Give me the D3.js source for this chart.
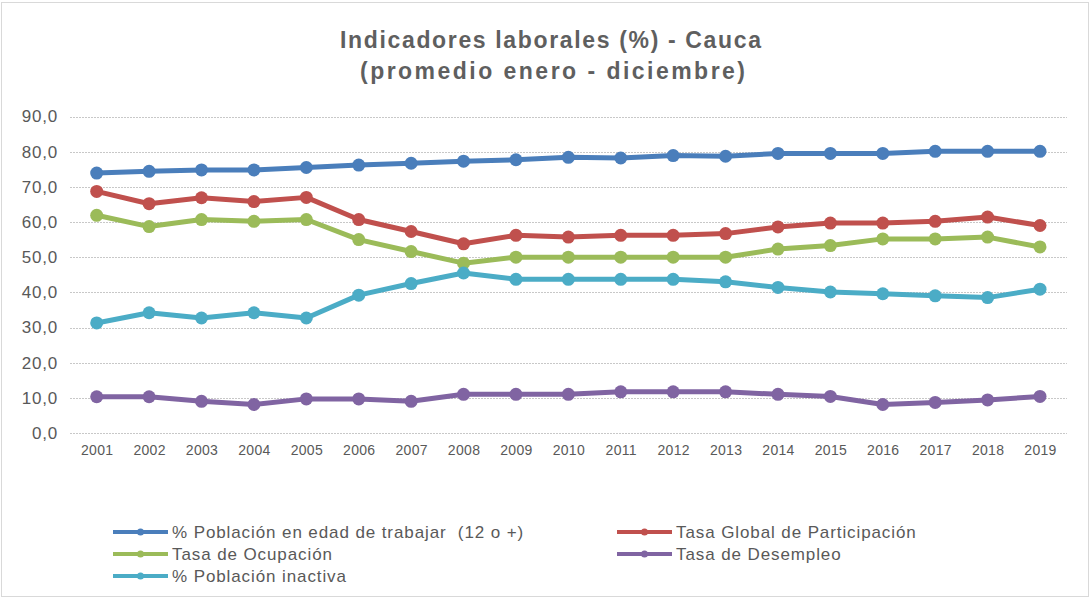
<!DOCTYPE html>
<html>
<head>
<meta charset="utf-8">
<title>Indicadores laborales - Cauca</title>
<script src="https://d3js.org/d3.v7.min.js"></script>
<style>
  body { margin: 0; background: #fff; }
  svg { display: block; font-family: "Liberation Sans", Arial, sans-serif; }
  .legend text { white-space: pre; }
</style>
</head>
<body>
<svg width="1091" height="599"></svg>
<script>
// data
var years = ["2001","2002","2003","2004","2005","2006","2007","2008","2009","2010",
             "2011","2012","2013","2014","2015","2016","2017","2018","2019"];
var pet = [73.9,74.4,74.8,74.8,75.5,76.2,76.7,77.3,77.7,78.4,78.2,78.9,78.7,79.5,79.5,79.5,80.1,80.1,80.1];
var tgp = [68.7,65.2,66.9,65.8,67.0,60.7,57.3,53.8,56.2,55.7,56.2,56.2,56.7,58.6,59.7,59.7,60.2,61.4,59.0];
var to  = [61.9,58.7,60.7,60.2,60.7,55.0,51.6,48.3,50.0,50.0,50.0,50.0,50.0,52.3,53.3,55.2,55.2,55.7,52.9];
var td  = [10.3,10.3,9.0,8.1,9.7,9.7,9.0,11.0,11.0,11.0,11.7,11.7,11.7,11.0,10.4,8.1,8.7,9.4,10.4];
var inact = [31.3,34.2,32.7,34.2,32.7,39.2,42.5,45.5,43.7,43.7,43.7,43.7,43.0,41.4,40.1,39.6,39.0,38.5,40.9];
var yTicks = [0,10,20,30,40,50,60,70,80,90];

var series = [
  {name: "% Población en edad de trabajar  (12 o +)", values: pet, color: "#4a7ebb"},
  {name: "Tasa Global de Participación", values: tgp, color: "#c0504d"},
  {name: "Tasa de Ocupación", values: to, color: "#9bbb59"},
  {name: "Tasa de Desempleo", values: td, color: "#8064a2"},
  {name: "% Población inactiva", values: inact, color: "#4bacc6"}
];

var svg = d3.select("svg");

// outer border
svg.append("rect").attr("x", 1.5).attr("y", 2.5).attr("width", 1087).attr("height", 594)
   .attr("fill", "none").attr("stroke", "#d9d9d9");

// title
svg.append("text").attr("x", 340).attr("y", 48)
   .attr("textLength", 421).attr("lengthAdjust", "spacing")
   .attr("fill", "#5f5f5f").attr("font-weight", "bold").attr("font-size", "23px")
   .text("Indicadores laborales (%) - Cauca");
svg.append("text").attr("x", 360).attr("y", 79)
   .attr("textLength", 385).attr("lengthAdjust", "spacing")
   .attr("fill", "#5f5f5f").attr("font-weight", "bold").attr("font-size", "23px")
   .text("(promedio enero - diciembre)");

var x = d3.scalePoint().domain(years).range([96.7, 1040]);
var y = d3.scaleLinear().domain([0, 90]).range([433, 116.5]);

// gridlines
svg.append("g")
   .selectAll("line").data(yTicks).enter().append("line")
   .attr("x1", 70).attr("x2", 1067)
   .attr("y1", function(d) { return Math.round(y(d)) + 0.5; })
   .attr("y2", function(d) { return Math.round(y(d)) + 0.5; })
   .attr("stroke", "#c8c8c8").attr("stroke-dasharray", "2,1");

// y axis labels
var yAxis = svg.append("g").attr("transform", "translate(58,0)")
   .call(d3.axisLeft(y).tickValues(yTicks).tickSize(0).tickPadding(0)
     .tickFormat(function(d) { return d3.format(".1f")(d).replace(".", ","); }));
yAxis.select(".domain").remove();
yAxis.selectAll("text").attr("fill", "#595959").attr("font-size", "17px")
   .attr("letter-spacing", "0.8px")
   .attr("font-family", "Liberation Sans, Arial, sans-serif");

// x axis labels
var xAxis = svg.append("g").attr("transform", "translate(0,433)")
   .call(d3.axisBottom(x).tickSize(0).tickPadding(12));
xAxis.select(".domain").remove();
xAxis.selectAll("text").attr("fill", "#595959").attr("font-size", "14px")
   .attr("letter-spacing", "0.3px")
   .attr("font-family", "Liberation Sans, Arial, sans-serif");

var line = d3.line()
   .x(function(d, i) { return x(years[i]); })
   .y(function(d) { return y(d); });

series.forEach(function(s) {
  var g = svg.append("g");
  g.append("path").datum(s.values).attr("d", line)
   .attr("fill", "none").attr("stroke", s.color).attr("stroke-width", 5)
   .attr("stroke-linejoin", "round");
  g.selectAll("circle").data(s.values).enter().append("circle")
   .attr("cx", function(d, i) { return x(years[i]); })
   .attr("cy", function(d) { return y(d); })
   .attr("r", 6.5).attr("fill", s.color);
});

// legend
var legendPos = [
  {x: 113, y: 532}, {x: 617, y: 532},
  {x: 113, y: 554}, {x: 617, y: 554},
  {x: 113, y: 576}
];
series.forEach(function(s, i) {
  var p = legendPos[i];
  var lg = svg.append("g").attr("class", "legend")
    .attr("transform", "translate(" + p.x + "," + p.y + ")");
  lg.append("line").attr("x1", 0).attr("x2", 55).attr("y1", 0).attr("y2", 0)
    .attr("stroke", s.color).attr("stroke-width", 4);
  lg.append("circle").attr("cx", 27.5).attr("cy", 0).attr("r", 3.5).attr("fill", s.color);
  lg.append("text").attr("x", 59).attr("y", 0).attr("dy", "0.36em")
    .attr("fill", "#595959").attr("font-size", "17px").attr("letter-spacing", "0.9px")
    .text(s.name);
});
</script>
</body>
</html>
